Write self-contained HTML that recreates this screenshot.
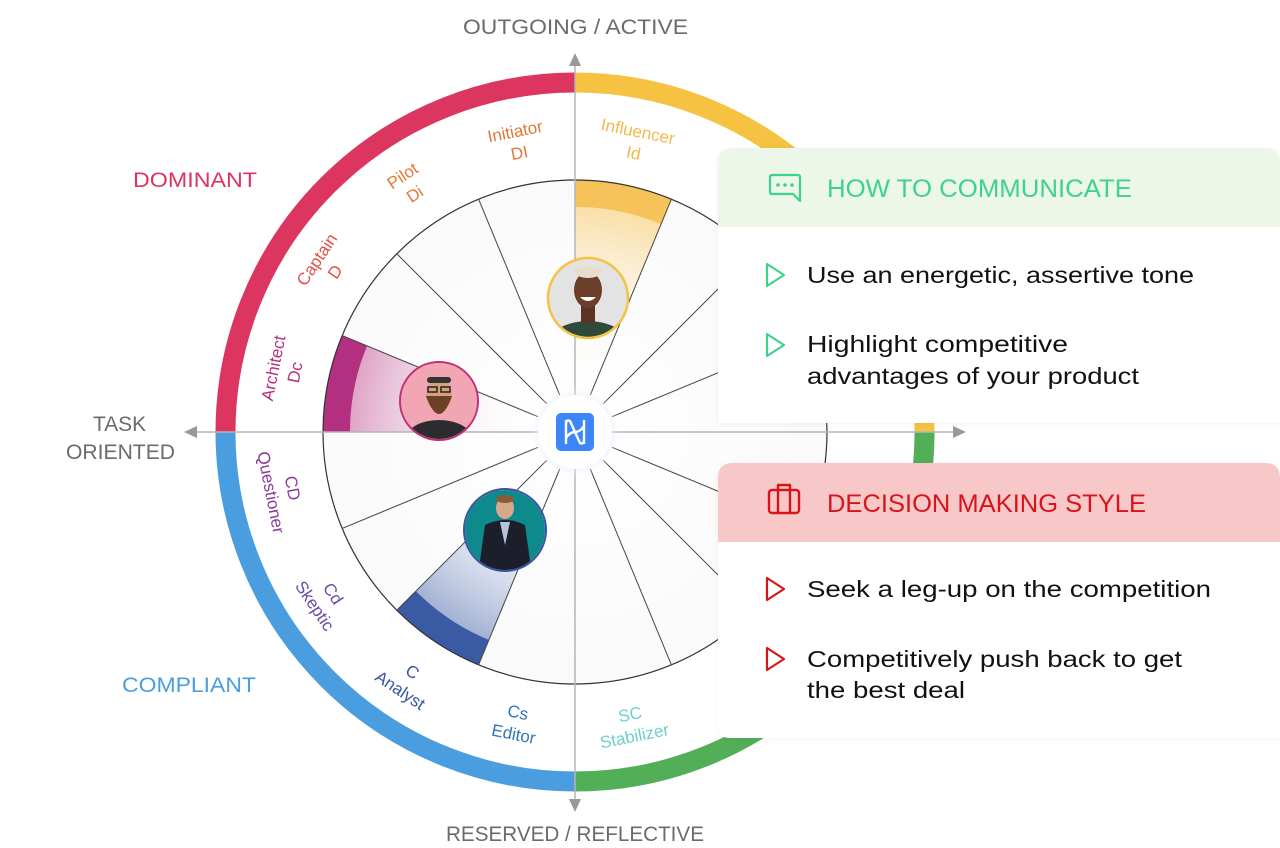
<!DOCTYPE html>
<html><head><meta charset="utf-8"><style>
html,body{margin:0;padding:0;background:#fff;}
svg{display:block;font-family:"Liberation Sans",sans-serif;}
</style></head><body>
<svg width="1280" height="848" viewBox="0 0 1280 848" xmlns="http://www.w3.org/2000/svg">
<defs>
<radialGradient id="gy" gradientUnits="userSpaceOnUse" cx="575" cy="432" r="225">
<stop offset="0.2" stop-color="#fff" stop-opacity="0"/><stop offset="1" stop-color="#fadfa8"/></radialGradient>
<radialGradient id="gp" gradientUnits="userSpaceOnUse" cx="575" cy="432" r="225">
<stop offset="0.2" stop-color="#fff" stop-opacity="0"/><stop offset="1" stop-color="#dfa4c6"/></radialGradient>
<radialGradient id="gb" gradientUnits="userSpaceOnUse" cx="575" cy="432" r="225">
<stop offset="0.2" stop-color="#fff" stop-opacity="0"/><stop offset="1" stop-color="#a3b2d4"/></radialGradient>
<radialGradient id="glow" cx="0.5" cy="0.5" r="0.5">
<stop offset="0.6" stop-color="#c9d6ff"/><stop offset="1" stop-color="#fff" stop-opacity="0"/></radialGradient>
<radialGradient id="wheelbg" gradientUnits="userSpaceOnUse" cx="575" cy="432" r="252">
<stop offset="0" stop-color="#fff"/><stop offset="1" stop-color="#fafafb"/></radialGradient>
<clipPath id="c1"><circle cx="588" cy="298" r="39"/></clipPath>
<clipPath id="c2"><circle cx="439" cy="401" r="38"/></clipPath>
<clipPath id="c3"><circle cx="505" cy="530" r="40"/></clipPath>
<filter id="sh" x="-10%" y="-10%" width="120%" height="130%"><feDropShadow dx="0" dy="1" stdDeviation="3" flood-color="#000" flood-opacity="0.05"/></filter>
</defs>

<g fill="none" stroke-width="20">
<path d="M225.5 432 A349.5 349.5 0 0 1 575 82.5" stroke="#dc3560"/>
<path d="M575 82.5 A349.5 349.5 0 0 1 924.5 432" stroke="#f5c242"/>
<path d="M924.5 432 A349.5 349.5 0 0 1 575 781.5" stroke="#52ae57"/>
<path d="M575 781.5 A349.5 349.5 0 0 1 225.5 432" stroke="#4a9ee0"/>
</g>

<circle cx="575" cy="432" r="252" fill="url(#wheelbg)"/>
<path d="M575 432 L575 207 A225 225 0 0 1 661.1 224.1 Z" fill="url(#gy)"/>
<path d="M575 180 A252 252 0 0 1 671.4 199.2 L661.1 224.1 A225 225 0 0 0 575 207 Z" fill="#f5c35a"/>
<path d="M575 432 L350 432 A225 225 0 0 1 367.1 345.9 Z" fill="url(#gp)"/>
<path d="M323 432 A252 252 0 0 1 342.2 335.6 L367.1 345.9 A225 225 0 0 0 350 432 Z" fill="#b33080"/>
<path d="M575 432 L415.9 591.1 A225 225 0 0 0 488.9 639.9 Z" fill="url(#gb)"/>
<path d="M396.8 610.2 A252 252 0 0 0 478.6 664.8 L488.9 639.9 A225 225 0 0 1 415.9 591.1 Z" fill="#3a5aa3"/>
<circle cx="575" cy="432" r="252" fill="none" stroke="#333" stroke-width="1.2"/>
<g stroke="#444" stroke-width="1">
<line x1="590.3" y1="395" x2="671.4" y2="199.2"/>
<line x1="603.3" y1="403.7" x2="753.2" y2="253.8"/>
<line x1="612" y1="416.7" x2="807.8" y2="335.6"/>
<line x1="612" y1="447.3" x2="807.8" y2="528.4"/>
<line x1="603.3" y1="460.3" x2="753.2" y2="610.2"/>
<line x1="590.3" y1="469" x2="671.4" y2="664.8"/>
<line x1="559.7" y1="469" x2="478.6" y2="664.8"/>
<line x1="546.7" y1="460.3" x2="396.8" y2="610.2"/>
<line x1="538" y1="447.3" x2="342.2" y2="528.4"/>
<line x1="538" y1="416.7" x2="342.2" y2="335.6"/>
<line x1="546.7" y1="403.7" x2="396.8" y2="253.8"/>
<line x1="559.7" y1="395" x2="478.6" y2="199.2"/>
</g>

<g stroke="#b5b5b5" stroke-width="1.5">
<line x1="575" y1="64" x2="575" y2="802"/>
<line x1="195" y1="432" x2="957" y2="432"/>
</g>
<g fill="#999">
<polygon points="575,53 569,66 581,66"/>
<polygon points="575,812 569,799 581,799"/>
<polygon points="184,432 197,426 197,438"/>
<polygon points="966,432 953,426 953,438"/>
</g>

<g clip-path="url(#c1)">
<rect x="540" y="250" width="100" height="100" fill="#e3e3e3"/>
<ellipse cx="588" cy="345" rx="40" ry="24" fill="#2f4a3b"/>
<rect x="581" y="305" width="14" height="18" fill="#5a3424"/>
<ellipse cx="588" cy="290" rx="14" ry="18" fill="#6b3e2a"/>
<ellipse cx="588" cy="272" rx="13" ry="6" fill="#e8dccb"/>
<path d="M580 297 Q588 305 596 297" fill="#fff"/>
</g>
<circle cx="588" cy="298" r="40" fill="none" stroke="#f5c242" stroke-width="2.5"/>
<g clip-path="url(#c2)">
<rect x="400" y="360" width="80" height="80" fill="#f2a6b4"/>
<ellipse cx="439" cy="440" rx="34" ry="20" fill="#2b2b30"/>
<ellipse cx="439" cy="395" rx="13" ry="16" fill="#d9a07e"/>
<path d="M426 396 Q439 432 452 396 Z" fill="#6b4026"/>
<rect x="427" y="377" width="24" height="6" rx="3" fill="#333"/>
<rect x="428" y="387" width="9" height="5" fill="none" stroke="#222" stroke-width="1.5"/>
<rect x="441" y="387" width="9" height="5" fill="none" stroke="#222" stroke-width="1.5"/>
</g>
<circle cx="439" cy="401" r="39" fill="none" stroke="#c0307a" stroke-width="2"/>
<g clip-path="url(#c3)">
<rect x="460" y="485" width="90" height="90" fill="#0f8a8c"/>
<path d="M478 575 L485 525 Q505 515 525 525 L532 575 Z" fill="#1c1f2b"/>
<path d="M500 522 L505 545 L510 522 Z" fill="#b9c2d8"/>
<ellipse cx="505" cy="508" rx="9" ry="11" fill="#d7a98a"/>
<ellipse cx="505" cy="499" rx="9" ry="4" fill="#8a5a3a"/>
</g>
<circle cx="505" cy="530" r="41" fill="none" stroke="#3a55a0" stroke-width="2"/>

<circle cx="575" cy="432" r="46" fill="url(#glow)"/>
<circle cx="575" cy="432" r="37" fill="#fff"/>
<rect x="556" y="413" width="38" height="38" rx="5" fill="#3d86f7"/>
<path d="M566 421 L566 443 M584 421 L584 443 M566 425 Q566 419 570 421 Q575 432 580 443 Q584 445 584 439 M566 438 Q570 432 575 432 Q580 432 584 426" fill="none" stroke="#fff" stroke-width="2.4" stroke-linecap="round"/>

<g font-size="21" fill="#6b6b6b">
<text x="463" y="34" textLength="225" lengthAdjust="spacingAndGlyphs">OUTGOING / ACTIVE</text>
<text x="446" y="841" textLength="258" lengthAdjust="spacingAndGlyphs">RESERVED / REFLECTIVE</text>
<text x="93" y="431" textLength="53" lengthAdjust="spacingAndGlyphs">TASK</text>
<text x="66" y="459" textLength="109" lengthAdjust="spacingAndGlyphs">ORIENTED</text>
</g>
<text x="133" y="187" font-size="21" fill="#dc3560" textLength="124" lengthAdjust="spacingAndGlyphs">DOMINANT</text>
<text x="122" y="692" font-size="21" fill="#4a9ee0" textLength="134" lengthAdjust="spacingAndGlyphs">COMPLIANT</text>

<g font-size="17" text-anchor="middle">
<g transform="translate(636,141) rotate(11.25)" fill="#f3b94a"><text y="-4">Influencer</text><text y="18">Id</text></g>
<g transform="translate(517,141) rotate(-11.25)" fill="#e0783a"><text y="-4">Initiator</text><text y="18">DI</text></g>
<g transform="translate(408,184) rotate(-33.75)" fill="#e67a3c"><text y="-4">Pilot</text><text y="18">Di</text></g>
<g transform="translate(325,265) rotate(-56.25)" fill="#e0504a"><text y="-4">Captain</text><text y="18">D</text></g>
<g transform="translate(283,370) rotate(-78.75)" fill="#b5307f"><text y="-4">Architect</text><text y="18">Dc</text></g>
<g transform="translate(283,490) rotate(78.75)" fill="#8a3a9a"><text y="-4">CD</text><text y="18">Questioner</text></g>
<g transform="translate(325,599) rotate(56.25)" fill="#6a4aa8"><text y="-4">Cd</text><text y="18">Skeptic</text></g>
<g transform="translate(407,680) rotate(33.75)" fill="#3a55a0"><text y="-4">C</text><text y="18">Analyst</text></g>
<g transform="translate(516,722) rotate(11.25)" fill="#2f78b5"><text y="-4">Cs</text><text y="18">Editor</text></g>
<g transform="translate(632,724) rotate(-11.25)" fill="#6fcfcf"><text y="-4">SC</text><text y="18">Stabilizer</text></g>
</g>

<g filter="url(#sh)">
<path d="M718 163 Q718 148 733 148 L1265 148 Q1280 148 1280 163 L1280 423 L718 423 Z" fill="#fff"/>
<path d="M718 478 Q718 463 733 463 L1265 463 Q1280 463 1280 478 L1280 738 L730 738 Q718 738 718 726 Z" fill="#fff"/>
</g>
<path d="M718 163 Q718 148 733 148 L1265 148 Q1280 148 1280 163 L1280 227 L718 227 Z" fill="#ecf7ea"/>
<path d="M718 478 Q718 463 733 463 L1265 463 Q1280 463 1280 478 L1280 542 L718 542 Z" fill="#f8c8c8"/>

<g fill="none" stroke="#3fd28a" stroke-width="2.2" stroke-linejoin="round">
<path d="M772 175 L798 175 Q800 175 800 177 L800 201 L793 194 L772 194 Q770 194 770 192 L770 177 Q770 175 772 175 Z"/>
</g>
<g fill="#3fd28a"><circle cx="778" cy="185" r="1.8"/><circle cx="785" cy="185" r="1.8"/><circle cx="792" cy="185" r="1.8"/></g>
<g fill="none" stroke="#d7141a" stroke-width="2.4" stroke-linejoin="round">
<rect x="769" y="490" width="30" height="23" rx="3"/>
<path d="M778 490 L778 485 L790 485 L790 490 M778 490 L778 513 M790 490 L790 513"/>
</g>

<text x="827" y="197" font-size="25" fill="#3fd28a" textLength="305" lengthAdjust="spacingAndGlyphs">HOW TO COMMUNICATE</text>
<text x="827" y="512" font-size="25" fill="#d7141a" textLength="319" lengthAdjust="spacingAndGlyphs">DECISION MAKING STYLE</text>

<g fill="none" stroke-width="2.2" stroke-linejoin="round">
<polygon points="767,264 767,286 784,275" stroke="#3fd28a"/>
<polygon points="767,334 767,356 784,345" stroke="#3fd28a"/>
<polygon points="767,578 767,600 784,589" stroke="#d7141a"/>
<polygon points="767,648 767,670 784,659" stroke="#d7141a"/>
</g>
<g font-size="23" fill="#111">
<text x="807" y="283" textLength="387" lengthAdjust="spacingAndGlyphs">Use an energetic, assertive tone</text>
<text x="807" y="352" textLength="261" lengthAdjust="spacingAndGlyphs">Highlight competitive</text>
<text x="807" y="384" textLength="332" lengthAdjust="spacingAndGlyphs">advantages of your product</text>
<text x="807" y="597" textLength="404" lengthAdjust="spacingAndGlyphs">Seek a leg-up on the competition</text>
<text x="807" y="667" textLength="375" lengthAdjust="spacingAndGlyphs">Competitively push back to get</text>
<text x="807" y="698" textLength="158" lengthAdjust="spacingAndGlyphs">the best deal</text>
</g>
</svg>
</body></html>
